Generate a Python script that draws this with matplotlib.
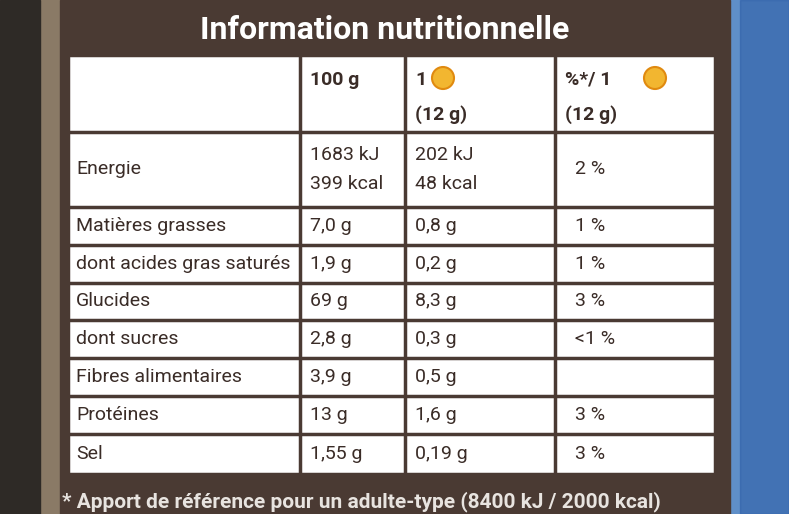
import matplotlib.pyplot as plt
from matplotlib.patches import Rectangle, Circle

title = "Information nutritionnelle"
row_labels = ["Energie", "Matières grasses", "dont acides gras saturés", "Glucides",
              "dont sucres", "Fibres alimentaires", "Protéines", "Sel"]
per_100g = ["1683 kJ\n399 kcal", "7,0 g", "1,9 g", "69 g", "2,8 g", "3,9 g", "13 g", "1,55 g"]
per_portion = ["202 kJ\n48 kcal", "0,8 g", "0,2 g", "8,3 g", "0,3 g", "0,5 g", "1,6 g", "0,19 g"]
pct_portion = ["2 %", "1 %", "1 %", "3 %", "<1 %", "", "3 %", "3 %"]
footnote = "* Apport de référence pour un adulte-type (8400 kJ / 2000 kcal)"

brown = "#4a3a33"
ink = "#3a2c27"
fam = "Roboto"

fig = plt.figure(figsize=(7.89, 5.14), dpi=100)
ax = fig.add_axes([0, 0, 1, 1])
ax.set_xlim(0, 789)
ax.set_ylim(514, 0)
ax.axis("off")

# background: cardboard left, blue cloth right
ax.add_patch(Rectangle((0, 0), 789, 514, color="#8a7a66"))
ax.add_patch(Rectangle((0, 0), 40, 514, color="#2e2a26"))
ax.add_patch(Rectangle((715, 0), 74, 514, color="#5f8fc8"))
ax.add_patch(Rectangle((740, 0), 49, 514, color="#2f5fa8", alpha=0.6))
ax.add_patch(Rectangle((60, 0), 670, 514, color=brown))

# title bar
ax.text(385, 30, title, color="white", fontsize=23, fontweight="bold",
        ha="center", va="center", family=fam)

# table
cols = [68, 300, 405, 555, 715]
rows = [55, 132, 207, 245, 283, 320, 358, 396, 434, 474]
ax.add_patch(Rectangle((cols[0], rows[0]), cols[-1] - cols[0], rows[-1] - rows[0],
                       color="white"))
for x in cols:
    ax.plot([x, x], [rows[0], rows[-1]], color=brown, lw=2.5)
for y in rows:
    ax.plot([cols[0], cols[-1]], [y, y], color=brown, lw=2.5)

fs = 14
ax.text(310, 80, "100 g", fontsize=fs, fontweight="bold", color=ink, va="center", family=fam)
ax.text(415, 80, "1", fontsize=fs, fontweight="bold", color=ink, va="center", family=fam)
ax.text(415, 115, "(12 g)", fontsize=fs, fontweight="bold", color=ink, va="center", family=fam)
ax.text(565, 80, "%*/ 1", fontsize=fs, fontweight="bold", color=ink, va="center", family=fam)
ax.text(565, 115, "(12 g)", fontsize=fs, fontweight="bold", color=ink, va="center", family=fam)
for cx in (443, 655):
    ax.add_patch(Circle((cx, 78), 11, facecolor="#f2b630", edgecolor="#e08a10", lw=1.5))

for i, lab in enumerate(row_labels):
    yc = (rows[i + 1] + rows[i + 2]) / 2
    ax.text(76, yc, lab, fontsize=fs, color=ink, va="center", family=fam)
    ax.text(310, yc, per_100g[i], fontsize=fs, color=ink, va="center", family=fam,
            linespacing=1.8)
    ax.text(415, yc, per_portion[i], fontsize=fs, color=ink, va="center", family=fam,
            linespacing=1.8)
    ax.text(575, yc, pct_portion[i], fontsize=fs, color=ink, va="center", family=fam)

ax.text(62, 502, footnote, fontsize=15, fontweight="bold", color="#e8e4e0",
        va="center", family=fam)

fig.savefig("out.png", dpi=100)
